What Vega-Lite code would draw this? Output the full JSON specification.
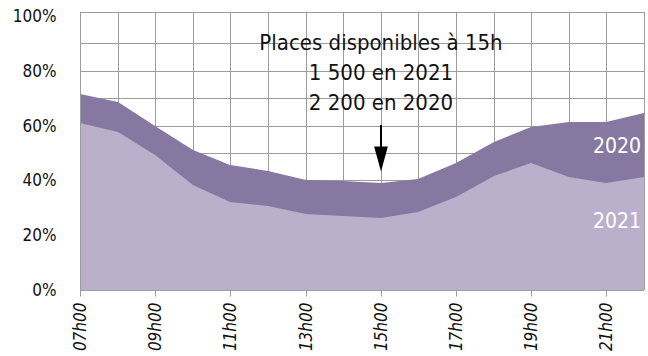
{
  "$schema": "https://vega.github.io/schema/vega-lite/v6.json",
  "width": 564,
  "height": 278,
  "autosize": "none",
  "padding": {"left": 80, "top": 12, "right": 4, "bottom": 66},
  "background": "white",
  "config": {
    "font": "DejaVu Sans Condensed",
    "view": {"stroke": null}
  },
  "datasets": {
    "series": [
      {"hour": 7, "y2020": 0.715, "y2021": 0.608},
      {"hour": 8, "y2020": 0.686, "y2021": 0.578},
      {"hour": 9, "y2020": 0.600, "y2021": 0.492},
      {"hour": 10, "y2020": 0.511, "y2021": 0.383},
      {"hour": 11, "y2020": 0.457, "y2021": 0.321},
      {"hour": 12, "y2020": 0.435, "y2021": 0.306},
      {"hour": 13, "y2020": 0.401, "y2021": 0.276},
      {"hour": 14, "y2020": 0.396, "y2021": 0.270},
      {"hour": 15, "y2020": 0.389, "y2021": 0.262},
      {"hour": 16, "y2020": 0.404, "y2021": 0.286},
      {"hour": 17, "y2020": 0.463, "y2021": 0.339},
      {"hour": 18, "y2020": 0.539, "y2021": 0.417},
      {"hour": 19, "y2020": 0.595, "y2021": 0.463},
      {"hour": 20, "y2020": 0.611, "y2021": 0.411},
      {"hour": 21, "y2020": 0.613, "y2021": 0.390},
      {"hour": 22, "y2020": 0.646, "y2021": 0.412}
    ],
    "vgrid": [
      {"hour": 7}, {"hour": 8}, {"hour": 9}, {"hour": 10}, {"hour": 11}, {"hour": 12}, {"hour": 13}, {"hour": 14},
      {"hour": 15}, {"hour": 16}, {"hour": 17}, {"hour": 18}, {"hour": 19}, {"hour": 20}, {"hour": 21}, {"hour": 22}
    ],
    "hgrid": [
      {"v": 0}, {"v": 0.1}, {"v": 0.2}, {"v": 0.3}, {"v": 0.4}, {"v": 0.5}, {"v": 0.6}, {"v": 0.7}, {"v": 0.8}, {"v": 0.9}, {"v": 1.014}
    ],
    "notes": [
      {"hour": 15, "v": 0.901, "label": "Places disponibles à 15h"},
      {"hour": 15, "v": 0.792, "label": "1 500 en 2021"},
      {"hour": 15, "v": 0.682, "label": "2 200 en 2020"}
    ],
    "tags": [
      {"hour": 21.28, "v": 0.521, "label": "2020"},
      {"hour": 21.28, "v": 0.248, "label": "2021"}
    ],
    "arrow": [
      {"hour": 15, "v1": 0.602, "v2": 0.477}
    ]
  },
  "layer": [
    {
      "data": {"name": "vgrid"},
      "mark": {"type": "rule", "color": "#9c9c9c", "strokeWidth": 1, "opacity": 1, "xOffset": 0.5},
      "encoding": {
        "x": {
          "field": "hour", "type": "quantitative",
          "scale": {"domain": [7, 22], "nice": false, "zero": false, "round": true},
          "axis": {
            "title": null,
            "grid": false,
            "domain": false,
            "values": [7,8,9,10,11,12,13,14,15,16,17,18,19,20,21,22],
            "labelExpr": "datum.value % 2 == 1 ? (datum.value < 10 ? '0' : '') + datum.value + 'h00' : ''",
            "labelAngle": -90,
            "labelAlign": "right",
            "labelBaseline": "middle",
            "labelFontStyle": "italic",
            "labelFontSize": 17,
            "labelColor": "#111111",
            "labelPadding": 6,
            "tickColor": "#9c9c9c",
            "tickSize": 6,
            "labelOverlap": false,
            "labelFlush": false
          }
        },
        "y": {"value": 0},
        "y2": {"value": 278}
      }
    },
    {
      "data": {"name": "hgrid"},
      "mark": {"type": "rule", "color": "#9c9c9c", "strokeWidth": 1, "opacity": 1, "yOffset": 0.5},
      "encoding": {
        "y": {
          "field": "v", "type": "quantitative",
          "scale": {"domain": [0, 1.014], "nice": false, "zero": true, "round": true},
          "axis": {
            "title": null,
            "grid": false,
            "domain": false,
            "values": [0, 0.2, 0.4, 0.6, 0.8, 1],
            "labelExpr": "round(datum.value*100) + '%'",
            "labelFontSize": 17,
            "labelColor": "#111111",
            "labelPadding": 24,
            "ticks": false,
            "labelOverlap": false
          }
        },
        "x": {"value": 0},
        "x2": {"value": 564}
      }
    },
    {
      "data": {"name": "series"},
      "mark": {"type": "area", "color": "#8778a2", "interpolate": "linear"},
      "encoding": {
        "x": {"field": "hour", "type": "quantitative"},
        "y": {"field": "y2020", "type": "quantitative"}
      }
    },
    {
      "data": {"name": "series"},
      "mark": {"type": "area", "color": "#bab0cb", "interpolate": "linear"},
      "encoding": {
        "x": {"field": "hour", "type": "quantitative"},
        "y": {"field": "y2021", "type": "quantitative"}
      }
    },
    {
      "data": {"name": "vgrid"},
      "transform": [{"filter": "datum.hour == 7 || datum.hour == 22"}],
      "mark": {"type": "rule", "color": "#9c9c9c", "strokeWidth": 1, "opacity": 1, "xOffset": 0.5},
      "encoding": {
        "x": {"field": "hour", "type": "quantitative"},
        "y": {"value": 0},
        "y2": {"value": 278}
      }
    },
    {
      "data": {"name": "hgrid"},
      "transform": [{"filter": "datum.v == 0"}],
      "mark": {"type": "rule", "color": "#9c9c9c", "strokeWidth": 1, "opacity": 1, "yOffset": 0.5},
      "encoding": {
        "y": {"field": "v", "type": "quantitative"},
        "x": {"value": 0},
        "x2": {"value": 564}
      }
    },
    {
      "data": {"name": "notes"},
      "mark": {"type": "text", "fontSize": 22, "color": "#111111", "align": "center", "baseline": "middle"},
      "encoding": {
        "x": {"field": "hour", "type": "quantitative"},
        "y": {"field": "v", "type": "quantitative"},
        "text": {"field": "label"}
      }
    },
    {
      "data": {"name": "arrow"},
      "mark": {"type": "rule", "color": "#000000", "strokeWidth": 2},
      "encoding": {
        "x": {"field": "hour", "type": "quantitative"},
        "y": {"field": "v1", "type": "quantitative"},
        "y2": {"field": "v2"}
      }
    },
    {
      "data": {"name": "arrow"},
      "mark": {"type": "point", "filled": true, "color": "#000000", "opacity": 1, "shape": "M-0.55,-1L0.55,-1L0,1Z", "size": 625},
      "encoding": {
        "x": {"field": "hour", "type": "quantitative"},
        "y": {"field": "v2", "type": "quantitative"}
      }
    },
    {
      "data": {"name": "tags"},
      "mark": {"type": "text", "fontSize": 21, "color": "white", "align": "center", "baseline": "middle"},
      "encoding": {
        "x": {"field": "hour", "type": "quantitative"},
        "y": {"field": "v", "type": "quantitative"},
        "text": {"field": "label"}
      }
    }
  ]
}
